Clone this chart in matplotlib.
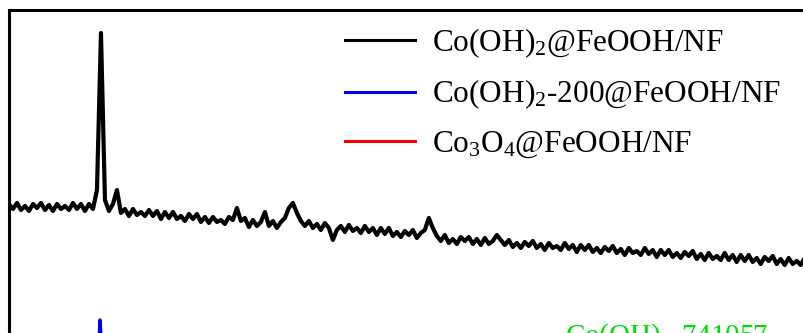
import numpy as np
import matplotlib
matplotlib.use('Agg')
import matplotlib.pyplot as plt
from matplotlib.lines import Line2D

plt.rcParams['font.family'] = ['Liberation Serif', 'DejaVu Serif']
plt.rcParams['mathtext.default'] = 'regular'

# XRD scan grid (2theta, deg) and intensities (a.u.)
two_theta = np.round(10 + 0.3 * np.arange(200), 2)
black_int = [
    276, 271, 277, 270, 274, 269, 276, 272, 277, 270,
    275, 269, 276, 271, 274, 270, 277, 271, 276, 269,
    276, 271, 290, 447, 280, 269, 276, 290, 267, 271,
    264, 271, 265, 268, 264, 270, 264, 269, 261, 268,
    262, 268, 261, 264, 259, 266, 261, 266, 258, 263,
    257, 263, 258, 260, 256, 263, 260, 272, 259, 262,
    253, 260, 254, 258, 268, 254, 259, 252, 258, 262,
    272, 277, 267, 259, 254, 259, 252, 256, 250, 257,
    252, 240, 250, 254, 248, 255, 249, 252, 247, 254,
    248, 252, 245, 252, 246, 252, 244, 248, 243, 249,
    245, 250, 242, 247, 250, 262, 252, 244, 239, 245,
    237, 241, 236, 243, 239, 243, 236, 241, 235, 242,
    236, 239, 245, 240, 235, 240, 233, 237, 232, 238,
    234, 239, 232, 236, 230, 237, 232, 234, 230, 237,
    231, 235, 228, 235, 230, 235, 228, 232, 227, 233,
    229, 234, 227, 231, 225, 232, 227, 229, 225, 232,
    226, 230, 223, 230, 225, 230, 223, 227, 222, 228,
    224, 229, 221, 226, 220, 227, 221, 224, 220, 227,
    220, 225, 218, 225, 219, 225, 218, 222, 216, 223,
    219, 224, 216, 221, 215, 222, 216, 219, 215, 222,
]

blue_two_theta = [10, 16.6, 16.83, 17.1, 80]
blue_int = [95, 100, 160, 100, 95]

labels = ['Co(OH)$_2$@FeOOH/NF', 'Co(OH)$_2$-200@FeOOH/NF', 'Co$_3$O$_4$@FeOOH/NF']
colors = ['black', '#0000ee', '#ee0000']
ref_label = 'Co(OH)$_2$-741057'

fig = plt.figure(figsize=(8.04, 3.33), dpi=100)
ax = fig.add_axes([9 / 804, -0.4414, 1.1604, 1.4114])

ax.plot(two_theta, black_int, color=colors[0], lw=3.0)
ax.plot(blue_two_theta, blue_int, color=colors[1], lw=2.4)
ax.text(51.7, 136, ref_label, color='#00dd00', fontsize=21, va='baseline')

ax.set_xlim(10, 80)
ax.set_ylim(0, 470)
for s in ax.spines.values():
    s.set_linewidth(2.2)
ax.tick_params(left=False, bottom=False, labelleft=False, labelbottom=False)

handles = [Line2D([], [], color=c, lw=2.2) for c in colors]
ax.legend(handles, labels, loc='upper left', bbox_to_anchor=(0.429, 0.922),
          bbox_transform=fig.transFigure, frameon=False, fontsize=22.5,
          handlelength=2.24, handletextpad=0.54, labelspacing=0.58,
          borderpad=0, borderaxespad=0)

fig.savefig('out.png', dpi=100)
